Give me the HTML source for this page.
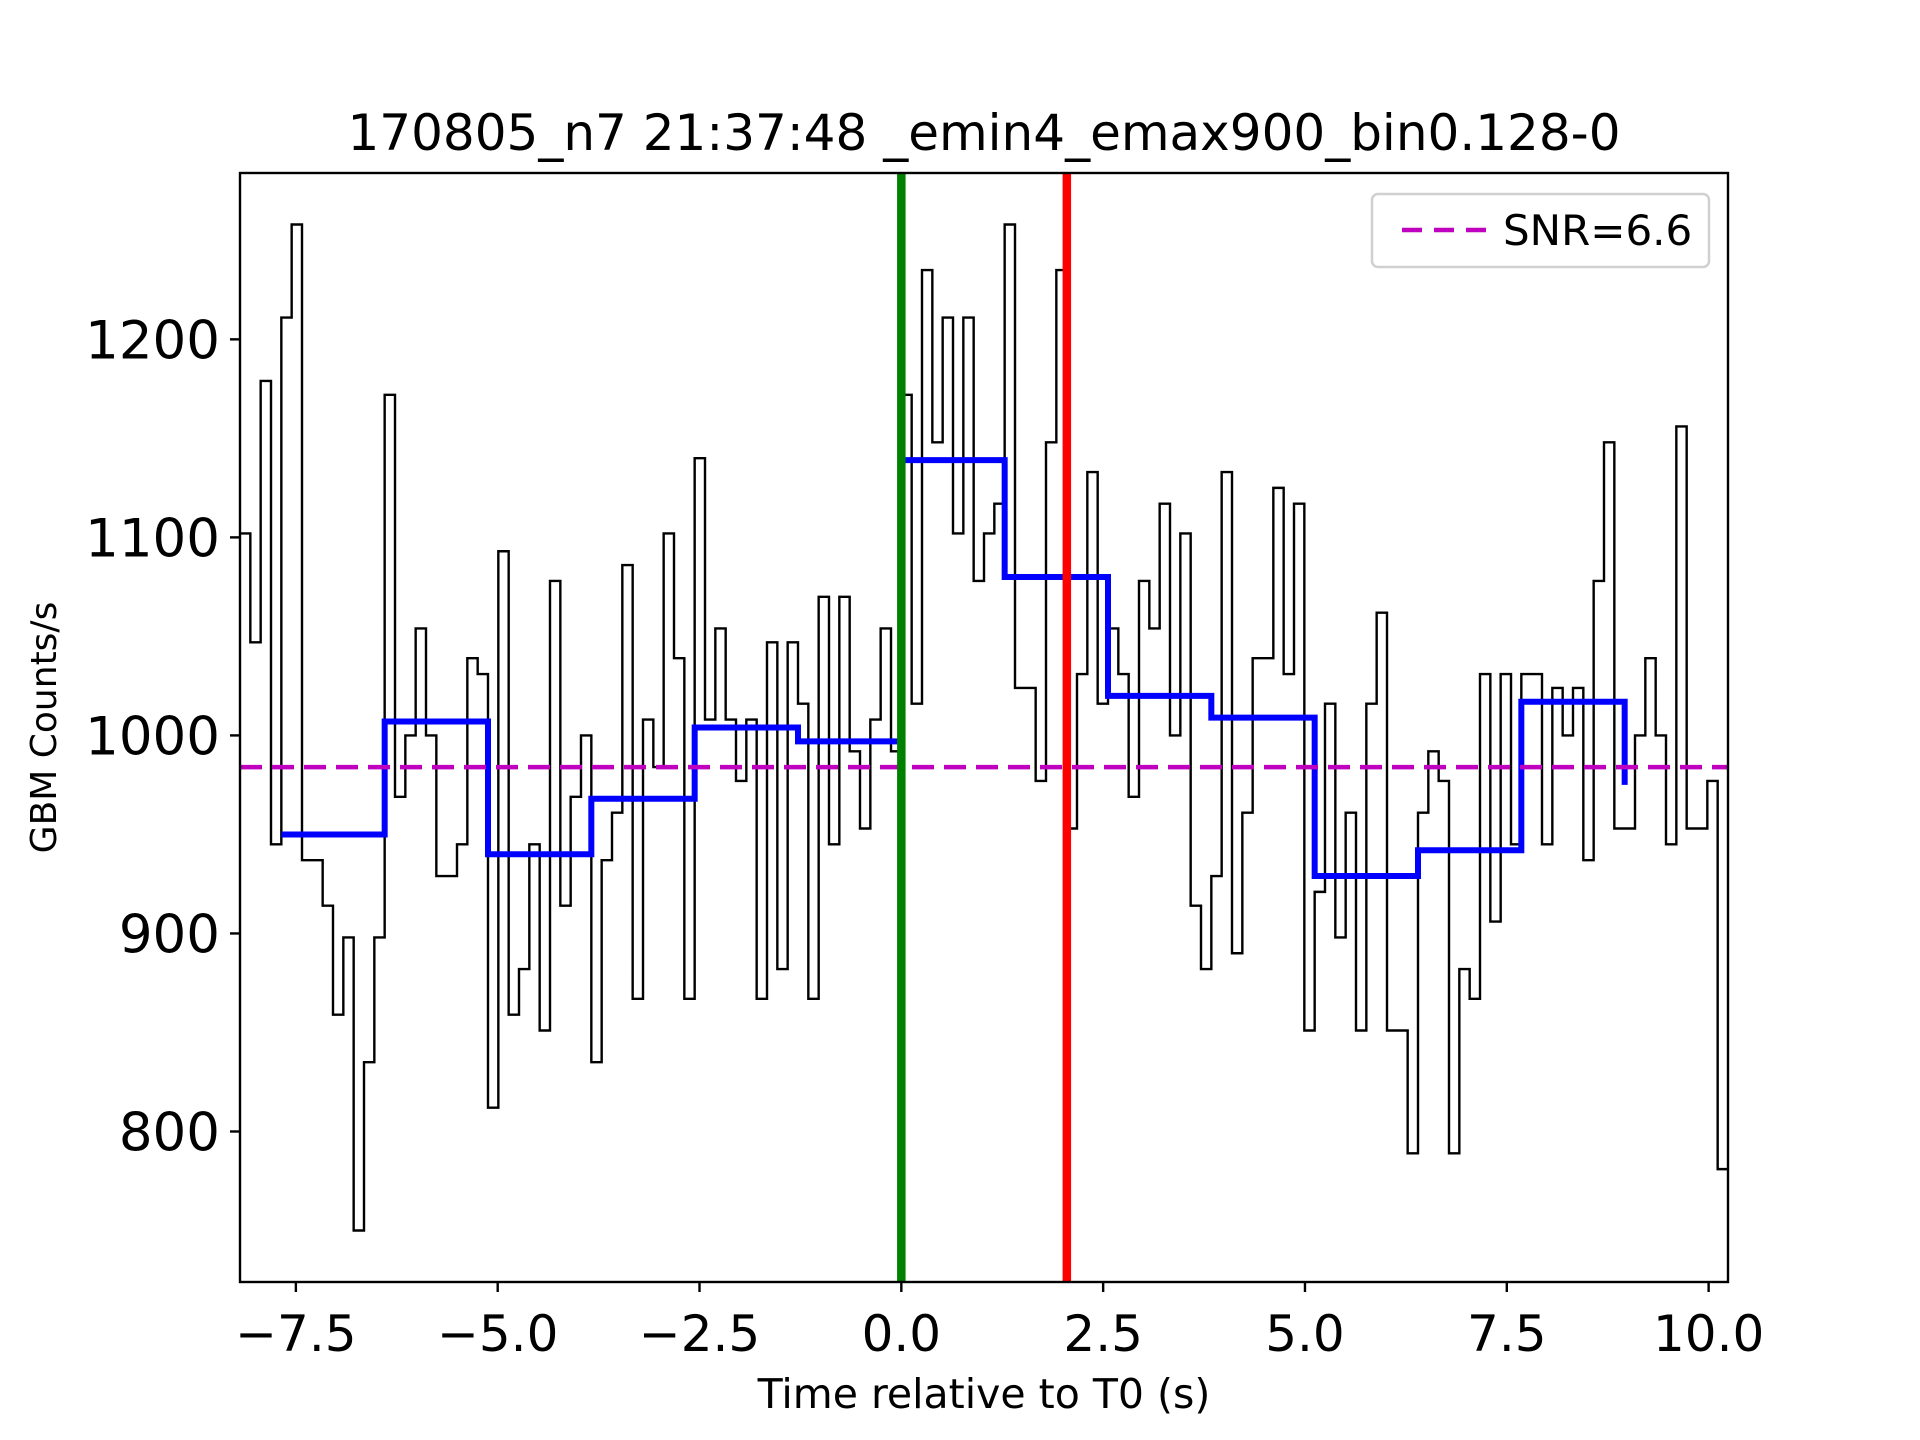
<!DOCTYPE html>
<html><head><meta charset="utf-8"><style>
html,body{margin:0;padding:0;background:#fff;}
svg{display:block;font-family:"DejaVu Sans","Liberation Sans",sans-serif;}
</style></head><body>
<svg id="chart" width="1920" height="1440" viewBox="0 0 1920 1440">
<rect width="1920" height="1440" fill="#fff"/>
<g id="plot"></g>
</svg>
<script>
const binStart = -8.192;
const binWidth = 0.128;
const counts = [1102,1047,1179,945,1211,1258,937,937,914,859,898,750,835,898,1172,969,1000,1054,1000,929,929,945,1039,1031,812,1093,859,882,945,851,1078,914,969,1000,835,937,961,1086,867,1008,984,1102,1039,867,1140,1008,1054,1008,977,1008,867,1047,882,1047,1016,867,1070,945,1070,992,953,1008,1054,992,
1172,1016,1235,1148,1211,1102,1211,1078,1102,1117,1258,1024,1024,977,1148,1235,953,1031,1133,1016,1054,1031,969,1078,1054,1117,1000,1102,914,882,929,1133,890,961,1039,1039,1125,1031,1117,851,921,1016,898,961,851,1016,1062,851,851,789,961,992,977,789,882,867,1031,906,1031,945,1031,1031,945,1024,1000,1024,937,1078,1148,953,953,1000,1039,1000,945,1156,953,953,977,781];
const blockEdges = [-7.68,-6.4,-5.12,-3.84,-2.56,-1.28,0,1.28,2.56,3.84,5.12,6.4,7.68,8.96];
const blockValues = [950,1007,940,968,1004,997,1139,1080,1020,1009,929,942,1017,975];
const snrLevel = 984;
const triggerTime = 0;
const peakTime = 2.05;
const xTicks = [-7.5,-5.0,-2.5,0.0,2.5,5.0,7.5,10.0];
const xTickLabels = ["\u22127.5","\u22125.0","\u22122.5","0.0","2.5","5.0","7.5","10.0"];
const yTicks = [800,900,1000,1100,1200];
const yTickLabels = ["800","900","1000","1100","1200"];

const L=240,R=1728,T=173,B=1282;
const xmin=-8.192,xmax=10.24,ymin=724,ymax=1284;
const X=v=>L+(v-xmin)/(xmax-xmin)*(R-L);
const Y=v=>B-(v-ymin)/(ymax-ymin)*(B-T);
const NS="http://www.w3.org/2000/svg";
const g=document.getElementById('plot');
function mk(tag,attrs,parent){const e=document.createElementNS(NS,tag);for(const k in attrs)e.setAttribute(k,attrs[k]);(parent||g).appendChild(e);return e;}

const defs=mk('defs',{});
const cp=mk('clipPath',{id:'clip'},defs);mk('rect',{x:L,y:T,width:R-L,height:B-T},cp);
const plotArea=mk('g',{'clip-path':'url(#clip)'});

let d='';
counts.forEach((c,i)=>{const x0=X(binStart+i*binWidth),x1=X(binStart+(i+1)*binWidth),y=Y(c);
 d+=(i===0?'M'+x0+','+y:'L'+x0+','+y)+'L'+x1+','+y;});
const hist=mk('path',{d:d,fill:'none',stroke:'#000','stroke-width':2.4},plotArea);



let bd='';
for(let i=0;i<blockEdges.length;i++){const x=X(blockEdges[i]),y=Y(blockValues[i]);
 bd+=(i===0?'M':'L')+x+','+y;
 if(i<blockEdges.length-1)bd+='L'+X(blockEdges[i+1])+','+y;}
const blk=mk('path',{d:bd,fill:'none',stroke:'#0000ff','stroke-width':6},plotArea);



const snr=mk('line',{x1:L,x2:R,y1:Y(snrLevel),y2:Y(snrLevel),stroke:'#bf00bf','stroke-width':4.5,'stroke-dasharray':'22,10'},plotArea);


const gl=mk('line',{x1:X(triggerTime),x2:X(triggerTime),y1:T,y2:B,stroke:'#008000','stroke-width':8.5},plotArea);


const rl=mk('line',{x1:X(peakTime),x2:X(peakTime),y1:T,y2:B,stroke:'#ff0000','stroke-width':8.5},plotArea);



const fr=mk('rect',{x:L,y:T,width:R-L,height:B-T,fill:'none',stroke:'#000','stroke-width':2.4});



xTicks.forEach((t,i)=>{const x=X(t);
 mk('line',{x1:x,x2:x,y1:B,y2:B+10,stroke:'#000','stroke-width':2.4});
 const tx=mk('text',{x:x,y:1351,'text-anchor':'middle','font-size':50,fill:'#000'});tx.textContent=xTickLabels[i];
 
 });
yTicks.forEach((t,i)=>{const y=Y(t);
 mk('line',{x1:L-10,x2:L,y1:y,y2:y,stroke:'#000','stroke-width':2.4});
 const tx=mk('text',{x:L-20,y:y+19,'text-anchor':'end','font-size':53,fill:'#000'});tx.textContent=yTickLabels[i];
 
 });

const xl=mk('text',{x:(L+R)/2,y:1408,'text-anchor':'middle','font-size':41,fill:'#000'});xl.textContent='Time relative to T0 (s)';


const yl=mk('text',{x:0,y:0,'text-anchor':'middle','font-size':36,fill:'#000',transform:'translate(56,'+((T+B)/2)+') rotate(-90)'});yl.textContent='GBM Counts/s';


const ti=mk('text',{x:(L+R)/2,y:150,'text-anchor':'middle','font-size':50,fill:'#000'});ti.textContent='170805_n7 21:37:48 _emin4_emax900_bin0.128-0';



const lg=mk('g',{});


mk('rect',{x:1372,y:194,width:337,height:73,rx:6,fill:'#fff','fill-opacity':0.8,stroke:'#d0d0d0','stroke-width':2.5},lg);
mk('line',{x1:1402,x2:1488,y1:230,y2:230,stroke:'#bf00bf','stroke-width':4.5,'stroke-dasharray':'20,12'},lg);
const lt=mk('text',{x:1503,y:245,'font-size':42,fill:'#000'},lg);lt.textContent='SNR=6.6';


</script>
</body></html>
